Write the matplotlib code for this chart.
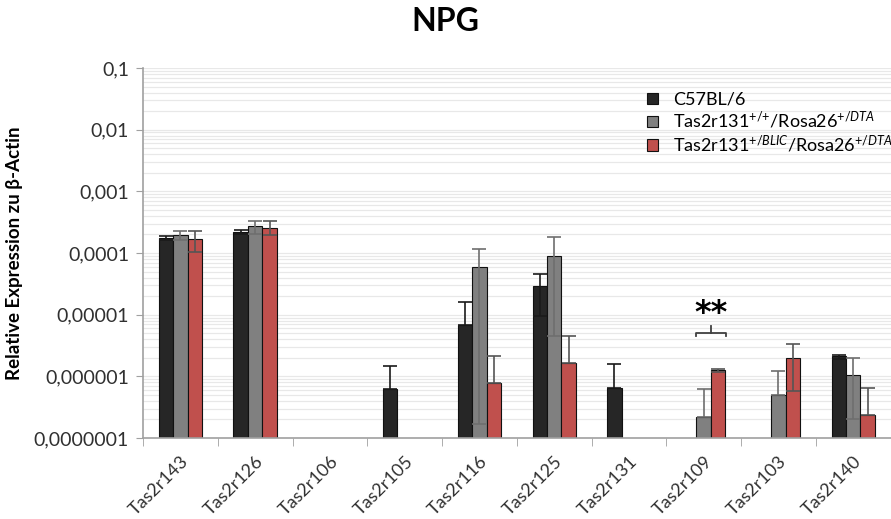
#!/usr/bin/env python3
"""NPG: relative Expression der Tas2r-Gene (log-Skala, Balkendiagramm)"""

import numpy as np
import matplotlib
matplotlib.use("Agg")
import matplotlib.pyplot as plt
from matplotlib.ticker import FixedLocator, FuncFormatter

genes = ["Tas2r143", "Tas2r126", "Tas2r106", "Tas2r105", "Tas2r116",
         "Tas2r125", "Tas2r131", "Tas2r109", "Tas2r103", "Tas2r140"]

series_labels = [
    "C57BL/6",
    r"Tas2r131$^{{+}/{+}}$/Rosa26$^{{+}/\mathit{DTA}}$",
    r"Tas2r131$^{{+}/\mathit{BLIC}}$/Rosa26$^{{+}/\mathit{DTA}}$",
]

# Mittelwerte (NaN = kein Signal)
c57 = [1.76e-4, 2.2e-4, np.nan, 6.2e-7, 6.8e-6, 2.9e-5, 6.4e-7, np.nan, np.nan, 2.13e-6]
wt_dta = [1.95e-4, 2.72e-4, np.nan, np.nan, 6.0e-5, 8.9e-5, np.nan, 2.2e-7, 4.95e-7, 1.05e-6]
blic_dta = [1.67e-4, 2.52e-4, np.nan, np.nan, 7.8e-7, 1.64e-6, np.nan, 1.26e-6, 1.97e-6, 2.34e-7]

# obere / untere Grenze der Fehlerbalken (NaN = nicht gezeigt)
c57_hi = [1.88e-4, 2.38e-4, np.nan, 1.5e-6, 1.6e-5, 4.6e-5, 1.6e-6, np.nan, np.nan, 2.2e-6]
c57_lo = [1.64e-4, 2.02e-4, np.nan, np.nan, np.nan, 9.5e-6, np.nan, np.nan, np.nan, 1.9e-6]
wt_hi = [2.3e-4, 3.25e-4, np.nan, np.nan, 1.15e-4, 1.8e-4, np.nan, 6.2e-7, 1.21e-6, 1.97e-6]
wt_lo = [1.65e-4, 2.05e-4, np.nan, np.nan, 1.7e-7, 4.5e-6, np.nan, np.nan, np.nan, 2.0e-7]
blic_hi = [2.25e-4, 3.25e-4, np.nan, np.nan, 2.1e-6, 4.5e-6, np.nan, 1.33e-6, 3.3e-6, 6.4e-7]
blic_lo = [1.05e-4, 1.95e-4, np.nan, np.nan, np.nan, np.nan, np.nan, 1.18e-6, 5.75e-7, np.nan]

colors = ["#262626", "#808080", "#C0504D"]
err_colors = ["#1a1a1a", "#6e6e6e", "#555555"]

plt.rcParams["font.family"] = ["Lato", "DejaVu Sans"]
plt.rcParams["mathtext.fontset"] = "custom"
plt.rcParams["mathtext.rm"] = "Lato"
plt.rcParams["mathtext.it"] = "Lato:italic"
plt.rcParams["mathtext.bf"] = "Lato:bold"


def main():
    fig = plt.figure(figsize=(8.91, 5.19), dpi=100)
    ax = fig.add_axes([0.1605, 0.156, 0.839, 0.713])

    x = np.arange(len(genes))
    width = 0.193
    data = [(c57, c57_hi, c57_lo), (wt_dta, wt_hi, wt_lo), (blic_dta, blic_hi, blic_lo)]

    handles = []
    for i, (vals, hi, lo) in enumerate(data):
        vals = np.array(vals, dtype=float)
        pos = x + (i - 1) * width
        heights = np.where(np.isnan(vals), 0, vals - 1e-7)
        bars = ax.bar(pos, heights, width=width, bottom=1e-7,
                      color=colors[i], edgecolor="#111111", linewidth=0.8, zorder=2)
        for b, v in zip(bars, vals):
            if np.isnan(v):
                b.set_visible(False)
        handles.append(bars)
        hi = np.array(hi, dtype=float)
        lo = np.array(lo, dtype=float)
        up = np.where(np.isnan(hi), 0, hi - np.nan_to_num(vals))
        dn = np.where(np.isnan(lo), 0, np.nan_to_num(vals) - lo)
        mask = ~np.isnan(hi) | ~np.isnan(lo)
        ax.errorbar(pos[mask], vals[mask], yerr=[dn[mask], up[mask]], fmt="none",
                    ecolor=err_colors[i], elinewidth=1.2, capsize=5, capthick=1.2, zorder=3)

    ax.set_yscale("log")
    ax.set_ylim(1e-7, 0.1)
    ax.set_xlim(-0.5, len(genes) - 0.5)

    majors = [10.0 ** k for k in range(-7, 0)]
    ax.yaxis.set_major_locator(FixedLocator(majors))
    ax.yaxis.set_major_formatter(FuncFormatter(lambda v, p: ("%.7f" % v).rstrip("0").replace(".", ",")))
    ax.yaxis.set_minor_locator(FixedLocator([m * 10.0 ** k for k in range(-7, -1) for m in range(2, 10)]))
    ax.tick_params(axis="y", which="major", length=5, color="#a0a0a0", labelsize=14,
                   labelcolor="#303030", pad=5)
    ax.tick_params(axis="y", which="minor", length=0)
    ax.grid(True, axis="y", which="both", color="#e8e8e8", linewidth=0.9, zorder=0)
    ax.set_axisbelow(True)

    ax.set_xticks(x)
    ax.set_xticklabels(genes, rotation=45, ha="right", rotation_mode="anchor", fontsize=13,
                       color="#303030")
    ax.set_xticks(np.arange(len(genes) + 1) - 0.5, minor=True)
    ax.tick_params(axis="x", which="major", length=0, pad=11)
    ax.tick_params(axis="x", which="minor", length=6, color="#a0a0a0")

    for s in ["top", "right"]:
        ax.spines[s].set_visible(False)
    for s in ["left", "bottom"]:
        ax.spines[s].set_color("#a0a0a0")
        ax.spines[s].set_linewidth(1.2)

    ax.set_ylabel("Relative Expression zu β-Actin", fontsize=13.5, fontweight="bold", labelpad=8)
    fig.text(0.5, 0.958, "NPG", ha="center", va="center", fontsize=23, fontweight="bold")

    # Signifikanz Tas2r109
    xb = 7 + width / 2
    x0, x1 = xb - 0.2, xb + 0.2
    yb, yd, yt = 5.0e-6, 4.5e-6, 6.6e-6
    ax.plot([x0, x0, x1, x1], [yd, yb, yb, yd], color="#404040", linewidth=1.3, zorder=4)
    ax.plot([xb, xb], [yb, yt], color="#404040", linewidth=1.3, zorder=4)
    ax.text(xb, 1.05e-5, "**", ha="center", va="center", fontsize=23, fontweight="bold",
            family=["DejaVu Sans"])

    leg = ax.legend(handles, series_labels, loc="upper left", bbox_to_anchor=(0.665, 0.955),
                    frameon=False, fontsize=13, handlelength=0.6, handleheight=0.6,
                    handletextpad=0.8, labelspacing=0.12, borderaxespad=0)
    for h in leg.legend_handles:
        h.set_edgecolor("#111111")

    fig.savefig("out.png", dpi=100)
    plt.close(fig)


if __name__ == "__main__":
    main()
